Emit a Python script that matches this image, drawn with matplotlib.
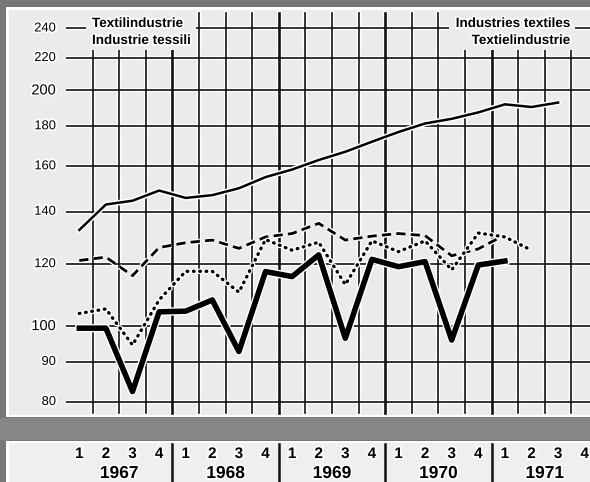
import numpy as np
import matplotlib.pyplot as plt
import matplotlib.patheffects as pe
from matplotlib.patches import Rectangle
from matplotlib.transforms import blended_transform_factory

plt.rcParams['font.family'] = ['Liberation Sans', 'DejaVu Sans']

# data (index) - quarters from 1967 Q1
years = ['1967', '1968', '1969', '1970', '1971']
quarters = ['1', '2', '3', '4']
yticks = [80, 90, 100, 120, 140, 160, 180, 200, 220, 240]

thin = [132.7, 143.0, 144.6, 149.0, 145.8, 147.0, 150.0, 155.0, 158.5, 163.0,
        167.0, 172.0, 177.0, 181.5, 184.0, 187.5, 192.0, 190.5, 193.0]
thick = [99.4, 99.4, 82.5, 104.3, 104.5, 108.0, 92.8, 117.4, 115.7, 123.3,
         96.5, 121.7, 119.1, 120.9, 96.0, 119.7, 121.1]
dashed = [121.3, 122.5, 116.0, 126.0, 127.8, 128.8, 125.7, 130.0, 131.3, 135.3,
          128.8, 130.3, 131.3, 130.5, 123.0, 125.5, 130.8]
dotted = [103.8, 105.2, 94.6, 108.0, 117.5, 117.5, 110.5, 129.0, 125.0, 128.0,
          113.0, 128.5, 124.5, 128.5, 118.0, 131.5, 130.0, 125.0]

W, H = 590, 482
def fx(px):
    return px / W
def fy(py):
    return 1 - py / H

# pixel layout of the scan: quarter 0 starts at x=66, 26.6 px per quarter
X0, DX = 66, 26.6
qmin, qmax = (9 - X0) / DX, (W - X0) / DX

fig = plt.figure(figsize=(5.9, 4.82), dpi=100)
fig.patch.set_facecolor('#777777')

def frect(x0, y0, x1, y1, c):
    fig.add_artist(Rectangle((fx(x0), fy(y1)), fx(x1) - fx(x0), fy(y0) - fy(y1),
                             transform=fig.transFigure, color=c, lw=0, zorder=-10))

frect(6, 7, W, 417, 'white')
frect(0, 418, W, 440, '#868686')
frect(6, 441, W, H, 'white')

ax = fig.add_axes([fx(9), fy(415), fx(W) - fx(9), fy(10) - fy(415)])
ax.set_facecolor('#ebebeb')
ax.set_yscale('log')
ax.set_xlim(qmin, qmax)
ax.set_ylim(80 * np.exp((402 - 415) / 340), 80 * np.exp((402 - 10) / 340))
ax.set_xticks([])
ax.set_yticks([])
ax.minorticks_off()
for s in ax.spines.values():
    s.set_visible(False)

ylo, yhi = 80 * np.exp((402 - 413) / 340), 80 * np.exp((402 - 13) / 340)

# grid with white halo like the print
for v in yticks:
    ax.plot([0, qmax], [v, v], color='white', lw=3.2, zorder=1, solid_capstyle='butt')
for k in range(1, 20):
    ax.plot([k, k], [ylo, yhi], color='white', lw=3.8 if k % 4 == 0 else 3.2, zorder=1)
for v in yticks:
    ax.plot([0, qmax], [v, v], color='#111111', lw=1.2, zorder=2, solid_capstyle='butt')
for k in range(1, 20):
    ax.plot([k, k], [ylo, yhi], color='#111111', lw=1.9 if k % 4 == 0 else 1.2, zorder=2)

# boxes behind the titles
for x0, x1 in [(86, 196), (449, 575)]:
    ax.add_patch(Rectangle((fx(x0), fy(50)), fx(x1) - fx(x0), fy(11) - fy(50),
                           transform=fig.transFigure, color='#ebebeb', lw=0, zorder=3))

halo = lambda w: [pe.Stroke(linewidth=w, foreground='white'), pe.Normal()]

x = np.arange(len(thin)) + 0.5
ax.plot(x, thin, color='black', lw=1.8, zorder=5, path_effects=halo(4.0))
x = np.arange(len(dashed)) + 0.5
ax.plot(x, dashed, color='black', lw=2.0, dashes=(3.3, 1.9), zorder=5,
        path_effects=halo(4.0))
x = np.arange(len(dotted)) + 0.5
ax.plot(x, dotted, color='black', lw=2.4, dashes=(0.2, 1.7), dash_capstyle='round',
        zorder=5, path_effects=halo(4.2))
x = np.arange(len(thick)) + 0.5
ax.plot(x, thick, color='black', lw=4.0, zorder=6, path_effects=halo(6.0))

txt_halo = [pe.withStroke(linewidth=2.5, foreground='white')]

ax.text(fx(92), fy(24), 'Textilindustrie', transform=fig.transFigure, fontsize=9.7,
        fontweight='bold', ha='left', va='center', zorder=7, path_effects=txt_halo)
ax.text(fx(92), fy(41), 'Industrie tessili', transform=fig.transFigure, fontsize=9.7,
        fontweight='bold', ha='left', va='center', zorder=7, path_effects=txt_halo)
ax.text(fx(571), fy(24), 'Industries textiles', transform=fig.transFigure, fontsize=9.7,
        fontweight='bold', ha='right', va='center', zorder=7, path_effects=txt_halo)
ax.text(fx(571), fy(41), 'Textielindustrie', transform=fig.transFigure, fontsize=9.7,
        fontweight='bold', ha='right', va='center', zorder=7, path_effects=txt_halo)

tr = blended_transform_factory(fig.transFigure, ax.transData)
for v in yticks:
    ax.text(fx(56), v, str(v), transform=tr, ha='right', va='center',
            fontsize=10.5 if v in (100, 200) else 9.3, zorder=7, path_effects=txt_halo)

# quarter / year labels
ax2 = fig.add_axes([fx(9), fy(H), fx(W) - fx(9), fy(443) - fy(H)])
ax2.set_facecolor('#efefef')
ax2.set_xlim(qmin, qmax)
ax2.set_ylim(H, 443)
ax2.set_xticks([])
ax2.set_yticks([])
for s in ax2.spines.values():
    s.set_visible(False)
for i, yr in enumerate(years):
    for j, q in enumerate(quarters):
        ax2.text(4 * i + j + 0.5, 454, q, ha='center', va='center', fontsize=11,
                 fontweight='bold', path_effects=txt_halo)
    ax2.text(4 * i + 2, 473.5, yr, ha='center', va='center', fontsize=12.5,
             fontweight='bold', path_effects=txt_halo)
    if i > 0:
        ax2.plot([4 * i, 4 * i], [444, H], color='#111111', lw=1.8)

fig.savefig('out.png', dpi=100, facecolor=fig.get_facecolor())
